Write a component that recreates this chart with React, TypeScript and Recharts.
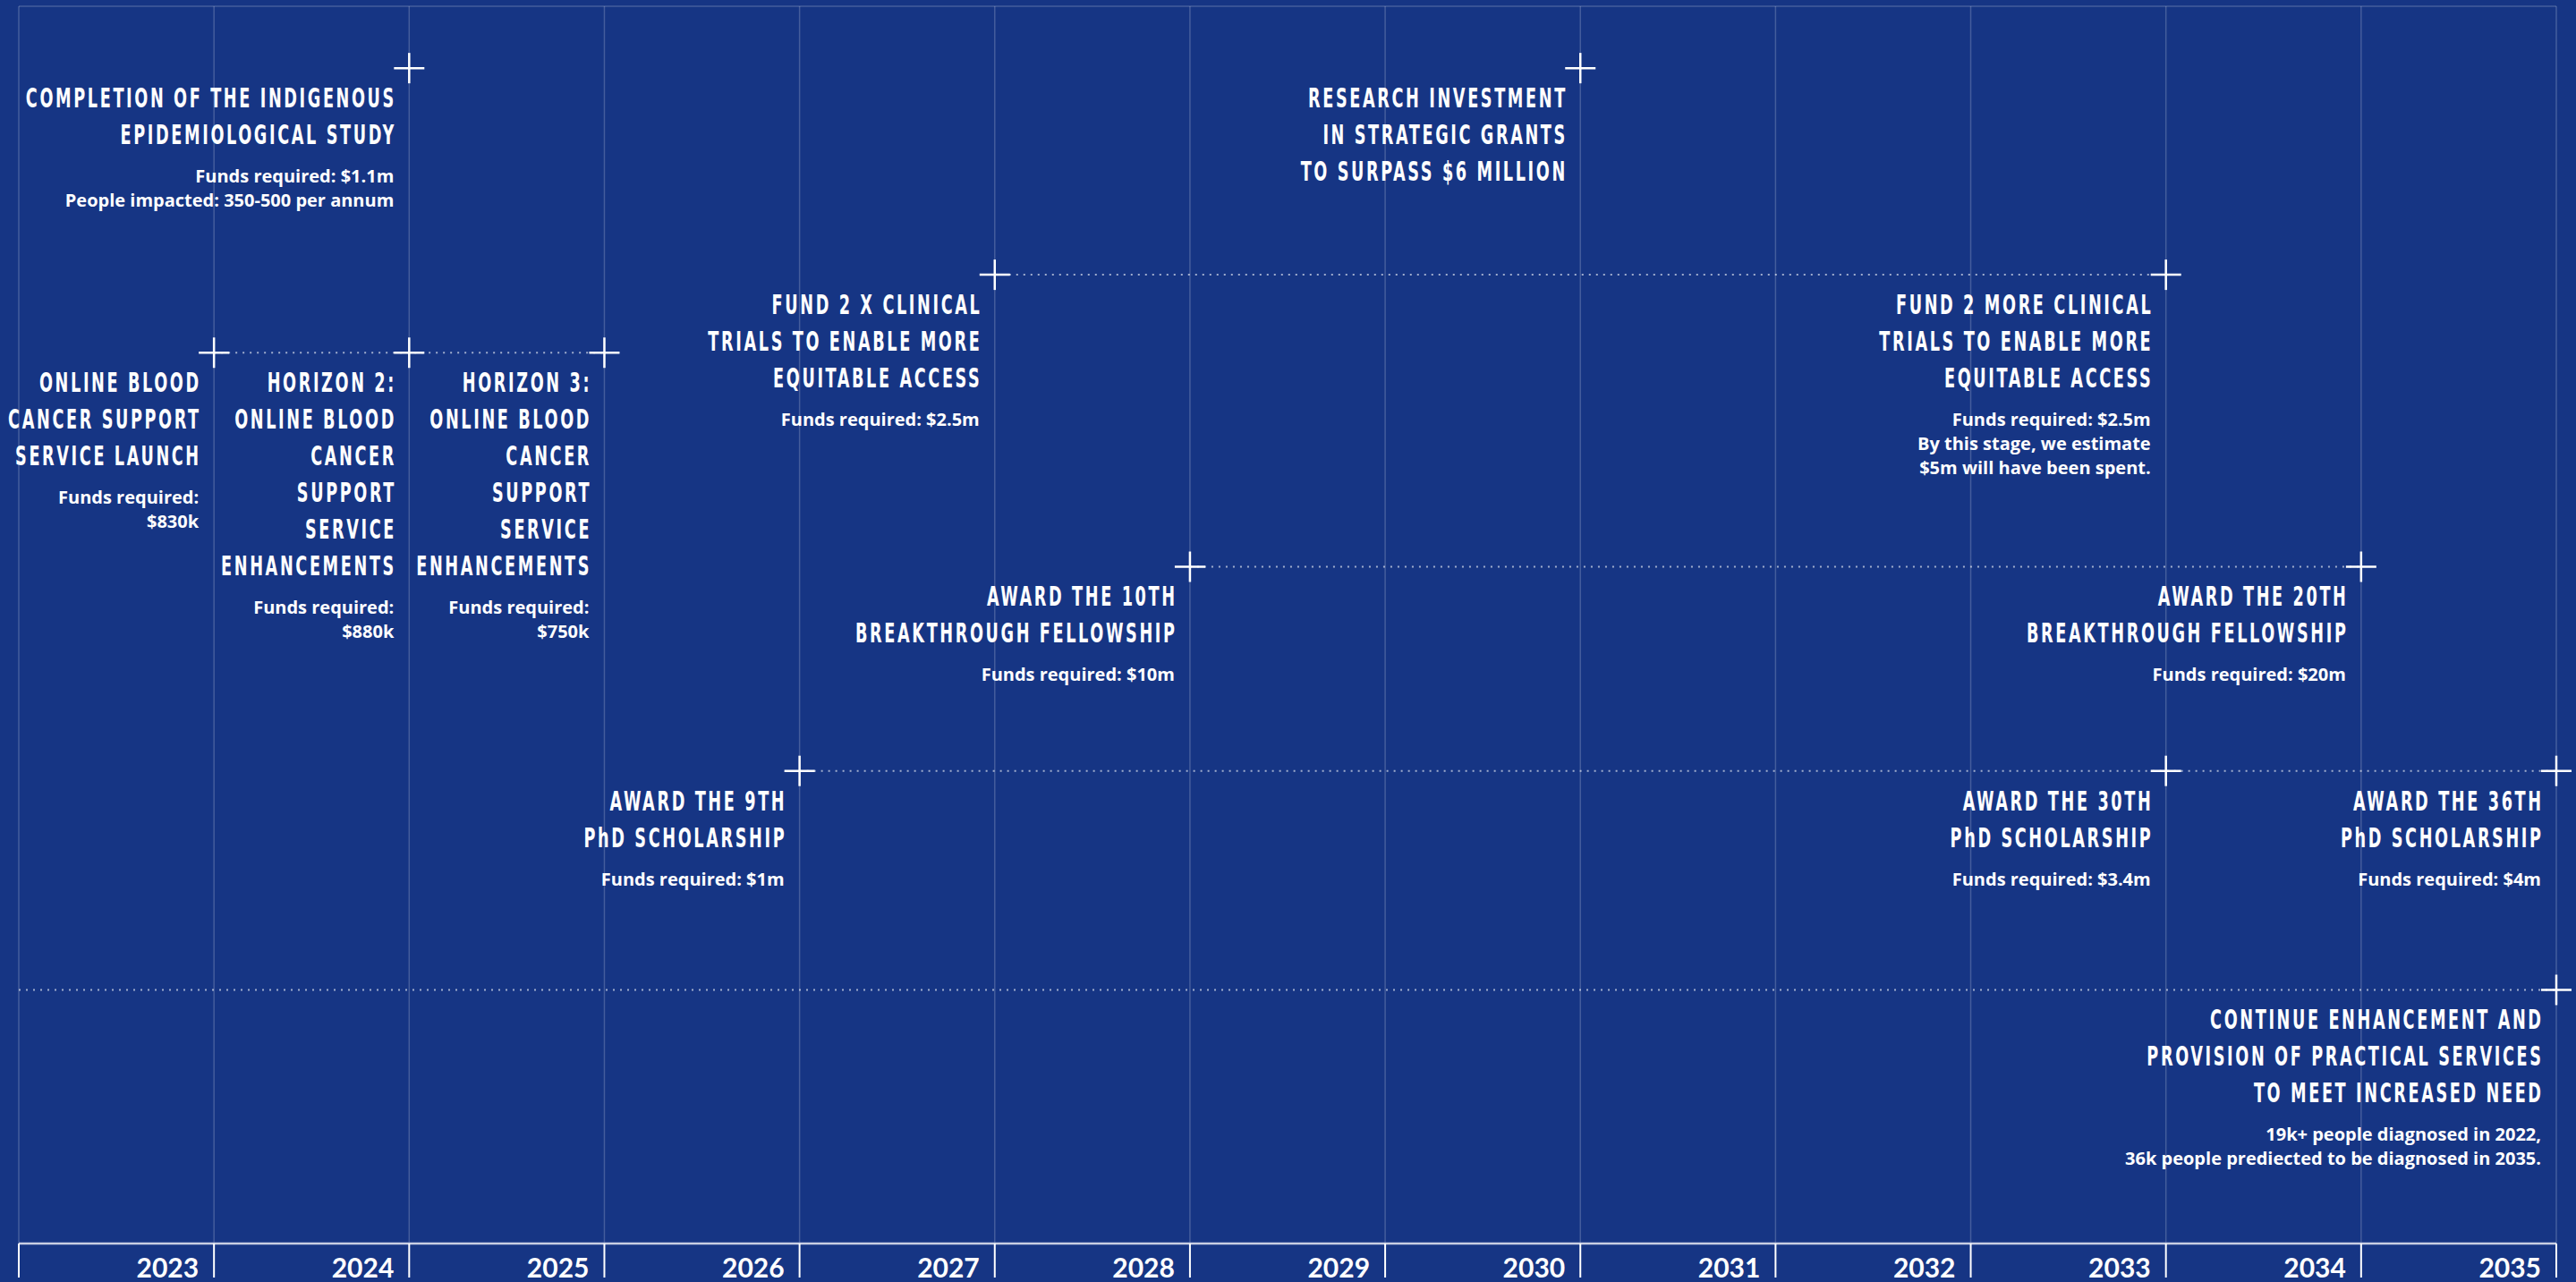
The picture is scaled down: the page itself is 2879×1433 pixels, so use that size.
import React from 'react';
import { ScatterChart, Scatter, XAxis, YAxis, CartesianGrid, ReferenceLine } from 'recharts';

// ---------- data ----------
const years = [2022, 2023, 2024, 2025, 2026, 2027, 2028, 2029, 2030, 2031, 2032, 2033, 2034, 2035];
const yearLabels = ['', '2023', '2024', '2025', '2026', '2027', '2028', '2029', '2030', '2031', '2032', '2033', '2034', '2035'];

const researchRow = [
  { year: 2024, lane: 95, marker: true, title: ['COMPLETION OF THE INDIGENOUS', 'EPIDEMIOLOGICAL STUDY'], notes: ['Funds required: $1.1m', 'People impacted: 350-500 per annum'] },
  { year: 2030, lane: 95, marker: true, title: ['RESEARCH INVESTMENT', 'IN STRATEGIC GRANTS', 'TO SURPASS $6 MILLION'], notes: [] as string[] },
];

const clinicalTrialsRow = [
  { year: 2027, lane: 78.3, marker: true, title: ['FUND 2 X CLINICAL', 'TRIALS TO ENABLE MORE', 'EQUITABLE ACCESS'], notes: ['Funds required: $2.5m'] },
  { year: 2033, lane: 78.3, marker: true, title: ['FUND 2 MORE CLINICAL', 'TRIALS TO ENABLE MORE', 'EQUITABLE ACCESS'], notes: ['Funds required: $2.5m', 'By this stage, we estimate', '$5m will have been spent.'] },
];

const onlineServiceRow = [
  { year: 2023, lane: 72, marker: true, title: ['ONLINE BLOOD', 'CANCER SUPPORT', 'SERVICE LAUNCH'], notes: ['Funds required:', '$830k'] },
  { year: 2024, lane: 72, marker: true, title: ['HORIZON 2:', 'ONLINE BLOOD', 'CANCER', 'SUPPORT', 'SERVICE', 'ENHANCEMENTS'], notes: ['Funds required:', '$880k'] },
  { year: 2025, lane: 72, marker: true, title: ['HORIZON 3:', 'ONLINE BLOOD', 'CANCER', 'SUPPORT', 'SERVICE', 'ENHANCEMENTS'], notes: ['Funds required:', '$750k'] },
];

const fellowshipRow = [
  { year: 2028, lane: 54.7, marker: true, title: ['AWARD THE 10TH', 'BREAKTHROUGH FELLOWSHIP'], notes: ['Funds required: $10m'] },
  { year: 2034, lane: 54.7, marker: true, title: ['AWARD THE 20TH', 'BREAKTHROUGH FELLOWSHIP'], notes: ['Funds required: $20m'] },
];

const scholarshipRow = [
  { year: 2026, lane: 38.2, marker: true, title: ['AWARD THE 9TH', 'PhD SCHOLARSHIP'], notes: ['Funds required: $1m'] },
  { year: 2033, lane: 38.2, marker: true, title: ['AWARD THE 30TH', 'PhD SCHOLARSHIP'], notes: ['Funds required: $3.4m'] },
  { year: 2035, lane: 38.2, marker: true, title: ['AWARD THE 36TH', 'PhD SCHOLARSHIP'], notes: ['Funds required: $4m'] },
];

const practicalServicesRow = [
  { year: 2022, lane: 20.5, marker: false, title: [] as string[], notes: [] as string[] },
  { year: 2035, lane: 20.5, marker: true, title: ['CONTINUE ENHANCEMENT AND', 'PROVISION OF PRACTICAL SERVICES', 'TO MEET INCREASED NEED'], notes: ['19k+ people diagnosed in 2022,', '36k people prediected to be diagnosed in 2035.'] },
];

// ---------- style ----------
const BG = '#163584';
const GRID = 'rgba(255,255,255,0.2)';
const TITLE_FONT = "'DejaVu Sans Condensed', 'DejaVu Sans', sans-serif";
const NOTE_FONT = "'Open Sans', Lato, 'Noto Sans', sans-serif";
const YEAR_FONT = "Lato, 'Open Sans', sans-serif";
const TITLE_SX = 0.655;
const DOTTED = { stroke: 'rgba(255,255,255,0.6)', strokeWidth: 2, strokeDasharray: '2 6' };

function MilestoneShape(props: any) {
  const { cx, cy, payload } = props;
  if (cx == null || cy == null || !payload || !payload.marker) return <g />;
  const right = cx - 17;
  const titleTop = cy + 44;
  const notesTop = titleTop + (payload.title.length - 1) * 41 + 43;
  return (
    <g>
      <line x1={cx - 17} y1={cy} x2={cx + 17} y2={cy} stroke="#fff" strokeWidth={2.5} />
      <line x1={cx} y1={cy - 17} x2={cx} y2={cy + 17} stroke="#fff" strokeWidth={2.5} />
      <g transform={`translate(${right} 0) scale(${TITLE_SX} 1)`}>
        <text textAnchor="end" fill="#fff" fontFamily={TITLE_FONT} fontWeight={700} fontSize={30} letterSpacing={4}>
          {payload.title.map((t: string, i: number) => (
            <tspan key={i} x={4} y={titleTop + i * 41}>{t}</tspan>
          ))}
        </text>
      </g>
      <text textAnchor="end" fill="#fff" fontFamily={NOTE_FONT} fontWeight={700} fontSize={20}>
        {payload.notes.map((t: string, i: number) => (
          <tspan key={i} x={right} y={notesTop + i * 27}>{t}</tspan>
        ))}
      </text>
    </g>
  );
}

function YearTick(props: any) {
  const { x, y, payload } = props;
  const idx = years.indexOf(payload.value);
  const label = idx >= 0 ? yearLabels[idx] : '';
  if (!label) return <g />;
  return (
    <text x={x - 17} y={y} textAnchor="end" fill="#fff" fontFamily={YEAR_FONT} fontWeight={700} fontSize={30}>
      {label}
    </text>
  );
}

export default function App() {
  return (
    <div style={{ position: 'absolute', left: 0, top: 0, width: 2879, height: 1433, background: BG, overflow: 'hidden' }}>
      <ScatterChart width={2879} height={1433} margin={{ top: 7, right: 22, bottom: 0, left: 21 }}>
        <CartesianGrid horizontal={false} vertical stroke={GRID} strokeWidth={1.5} />
        <ReferenceLine y={100} stroke={GRID} strokeWidth={1.5} />
        <XAxis
          type="number"
          dataKey="year"
          domain={[2022, 2035]}
          ticks={years}
          interval={0}
          height={43}
          axisLine={{ stroke: '#c8cee3', strokeWidth: 2.5 }}
          tickLine={{ stroke: '#ffffff', strokeWidth: 2 }}
          tickSize={38}
          tickMargin={0}
          tick={<YearTick />}
        />
        <YAxis type="number" dataKey="lane" domain={[0, 100]} hide />
        <Scatter data={researchRow} shape={MilestoneShape} isAnimationActive={false} />
        <Scatter data={clinicalTrialsRow} shape={MilestoneShape} line={DOTTED} lineType="joint" isAnimationActive={false} />
        <Scatter data={onlineServiceRow} shape={MilestoneShape} line={DOTTED} lineType="joint" isAnimationActive={false} />
        <Scatter data={fellowshipRow} shape={MilestoneShape} line={DOTTED} lineType="joint" isAnimationActive={false} />
        <Scatter data={scholarshipRow} shape={MilestoneShape} line={DOTTED} lineType="joint" isAnimationActive={false} />
        <Scatter data={practicalServicesRow} shape={MilestoneShape} line={DOTTED} lineType="joint" isAnimationActive={false} />
      </ScatterChart>
    </div>
  );
}
